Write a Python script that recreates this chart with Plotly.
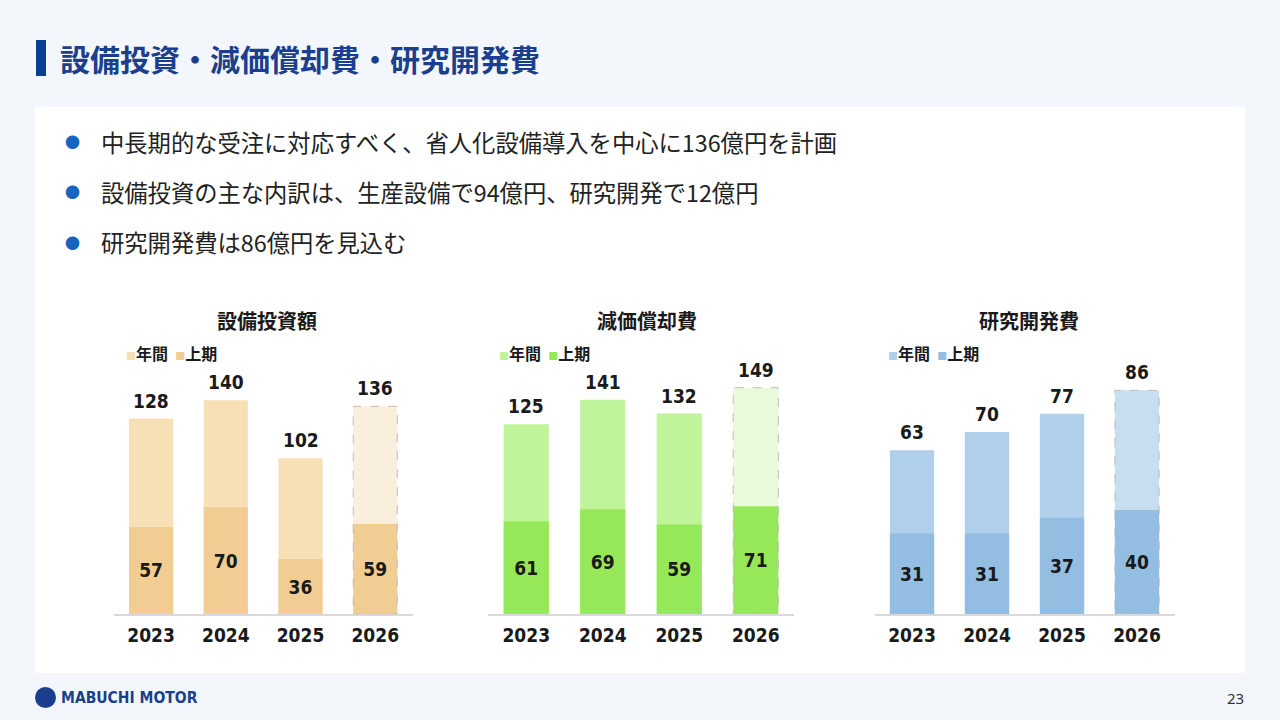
import plotly.graph_objects as go

# --- data ---
years = ["2023", "2024", "2025", "2026"]
plan_year = "2026"

capex_annual = [128, 140, 102, 136]
capex_h1 = [57, 70, 36, 59]
dep_annual = [125, 141, 132, 149]
dep_h1 = [61, 69, 59, 71]
rnd_annual = [63, 70, 77, 86]
rnd_h1 = [31, 31, 37, 40]

chart_titles = ["設備投資額", "減価償却費", "研究開発費"]
legend_names = ["年間", "上期"]

page_title = "設備投資・減価償却費・研究開発費"
bullet_lines = [
    "中長期的な受注に対応すべく、省人化設備導入を中心に136億円を計画",
    "設備投資の主な内訳は、生産設備で94億円、研究開発で12億円",
    "研究開発費は86億円を見込む",
]
page_no = "23"

# --- page geometry (pixels -> paper) ---
W, H = 1280, 720


def px(x):
    return x / W


def py(y):
    return 1 - y / H


JP = "Noto Sans CJK JP, sans-serif"
NUM = "DejaVu Sans Condensed, Liberation Sans Narrow, Noto Sans CJK JP, sans-serif"
INK = "#1a1a1a"
NAVY = "#1B3F8E"

# annual colour, first-half colour, planned annual colour, chart x-range px, scale range, title x, legend x
charts = [
    dict(annual=capex_annual, h1=capex_h1, light="#F7DFB6", dark="#F2CD93", plan="#FAEEDD",
         dom=(113.7, 412.6), top=186, tx=267, lx=124),
    dict(annual=dep_annual, h1=dep_h1, light="#BFF49B", dark="#96E858", plan="#E9FADC",
         dom=(488, 794), top=187, tx=647, lx=497),
    dict(annual=rnd_annual, h1=rnd_h1, light="#AFCFEA", dark="#93BDE1", plan="#C7DDF0",
         dom=(874.5, 1174.5), top=109.2, tx=1029, lx=886),
]

fig = go.Figure()
shapes = []
annotations = []
layout_axes = {}
half_w = (1 - 0.41) / 2

for i, c in enumerate(charts):
    n = "" if i == 0 else str(i + 1)
    xa, ya = "x" + n, "y" + n
    light_cols = [c["plan"] if y == plan_year else c["light"] for y in years]

    fig.add_trace(go.Bar(x=years, y=c["annual"], marker_color=light_cols, marker_line_width=0,
                         xaxis=xa, yaxis=ya, showlegend=False, hoverinfo="skip"))
    fig.add_trace(go.Bar(x=years, y=c["h1"], marker_color=c["dark"], marker_line_width=0,
                         text=c["h1"], textposition="inside", insidetextanchor="middle",
                         textangle=0, constraintext="none",
                         textfont=dict(family=NUM, size=19, color=INK, weight="bold"),
                         xaxis=xa, yaxis=ya, showlegend=False, hoverinfo="skip"))

    # annual totals above bars (category serial numbers on the x axis)
    for k, v in enumerate(c["annual"]):
        annotations.append(dict(x=k, y=v, xref=xa, yref=ya, text=str(v), showarrow=False,
                                yanchor="bottom", yshift=5,
                                font=dict(family=NUM, size=19, color=INK, weight="bold")))

    # dashed outline for the planned year
    k = years.index(plan_year)
    shapes.append(dict(type="rect", xref=xa, yref=ya, x0=k - half_w, x1=k + half_w,
                       y0=0, y1=c["annual"][k], layer="above",
                       line=dict(color="#BDBDBD", width=1, dash="dash")))

    # chart title
    annotations.append(dict(x=px(c["tx"]), y=py(320), xref="paper", yref="paper",
                            text=chart_titles[i], showarrow=False, xanchor="center", yanchor="middle",
                            font=dict(family=JP, size=20, color=INK, weight="bold")))
    # legend
    leg = (f"<span style='color:{c['light']};font-size:10px'>■</span>{legend_names[0]}"
           f"\u00a0\u00a0<span style='color:{c['dark']};font-size:10px'>■</span>{legend_names[1]}")
    annotations.append(dict(x=px(c["lx"]), y=py(353), xref="paper", yref="paper", text=leg,
                            showarrow=False, xanchor="left", yanchor="middle",
                            font=dict(family=JP, size=16, color=INK, weight="bold")))

    layout_axes["xaxis" + n] = dict(type="category", categoryorder="array", categoryarray=years,
                                    range=[-0.5, len(years) - 0.5],
                                    domain=[px(c["dom"][0]), px(c["dom"][1])],
                                    anchor=ya, automargin=False,
                                    showline=True, linecolor="#D9D9D9", linewidth=2,
                                    ticks="", showgrid=False, zeroline=False, ticklabelstandoff=3,
                                    tickfont=dict(family=NUM, size=19, color=INK, weight="bold"),
                                    fixedrange=True)
    layout_axes["yaxis" + n] = dict(domain=[py(614), py(330)], anchor=xa, range=[0, c["top"]],
                                    visible=False, automargin=False, fixedrange=True)

# page furniture
shapes.append(dict(type="rect", xref="paper", yref="paper", x0=px(35), x1=px(1245),
                   y0=py(673), y1=py(107), fillcolor="white", line_width=0, layer="below"))
shapes.append(dict(type="rect", xref="paper", yref="paper", x0=px(36), x1=px(46),
                   y0=py(76), y1=py(40), fillcolor="#0B3D91", line_width=0))
shapes.append(dict(type="circle", xref="paper", yref="paper", x0=px(35), x1=px(56),
                   y0=py(708), y1=py(687), fillcolor=NAVY, line_width=0))

annotations.append(dict(x=px(58), y=py(58), xref="paper", yref="paper", text=page_title,
                        showarrow=False, xanchor="left", yanchor="middle",
                        font=dict(family=JP, size=30, color=NAVY, weight="bold")))

for j, line in enumerate(bullet_lines):
    yy = py(142 + 50 * j)
    annotations.append(dict(x=px(72), y=yy, xref="paper", yref="paper", text="●",
                            showarrow=False, xanchor="center", yanchor="middle",
                            font=dict(family=JP, size=15, color="#1565C0")))
    annotations.append(dict(x=px(99), y=yy, xref="paper", yref="paper", text=line,
                            showarrow=False, xanchor="left", yanchor="middle",
                            font=dict(family=JP, size=23.3, color="#222222")))

annotations.append(dict(x=px(59), y=py(698), xref="paper", yref="paper", text="MABUCHI MOTOR",
                        showarrow=False, xanchor="left", yanchor="middle",
                        font=dict(family=NUM, size=15.5, color=NAVY, weight="bold")))
annotations.append(dict(x=px(1246), y=py(698), xref="paper", yref="paper", text=page_no,
                        showarrow=False, xanchor="right", yanchor="middle",
                        font=dict(family="Noto Sans, sans-serif", size=15, color="#333333")))

fig.update_layout(
    width=W, height=H, margin=dict(l=0, r=0, t=0, b=0, autoexpand=False),
    paper_bgcolor="#F3F7FC", plot_bgcolor="rgba(0,0,0,0)",
    barmode="overlay", bargap=0.41,
    shapes=shapes, annotations=annotations,
    showlegend=False,
    **layout_axes,
)

fig.write_html("out.html", config={"displayModeBar": False},
               post_script="document.body.style.margin='0';document.body.style.overflow='hidden';")
